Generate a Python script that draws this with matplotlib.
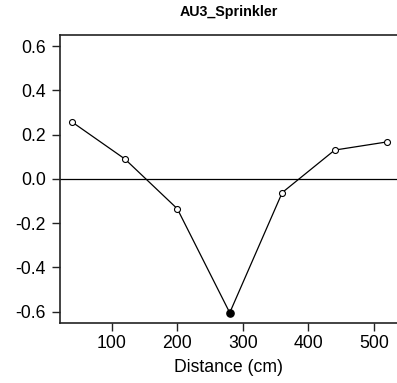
import matplotlib
matplotlib.use("Agg")
import matplotlib.pyplot as plt
import numpy as np

distance_cm = [40, 120, 200, 280, 360, 440, 520]
response = [0.256, 0.090, -0.135, -0.605, -0.062, 0.130, 0.167]
min_index = 3  # point drawn filled

plt.rcParams["font.family"] = ["Liberation Sans", "DejaVu Sans"]

fig = plt.figure(figsize=(3.97, 3.83), dpi=100)
ax = fig.add_axes([60 / 397, 1 - 322.7 / 383, 1 - 60 / 397, (322.7 - 35) / 383])

ax.axhline(0, color="black", linewidth=0.9, zorder=1)
ax.plot(distance_cm, response, color="black", linewidth=0.9, zorder=2)

open_idx = [i for i in range(len(distance_cm)) if i != min_index]
ax.plot(np.array(distance_cm)[open_idx], np.array(response)[open_idx],
        linestyle="none", marker="o", markersize=4.3, markerfacecolor="white",
        markeredgecolor="black", markeredgewidth=0.8, zorder=3)
ax.plot(distance_cm[min_index], response[min_index], linestyle="none",
        marker="o", markersize=5.2, color="black", zorder=3)

ax.set_xlim(21.2, 535)
ax.set_ylim(-0.65, 0.65)
ax.set_xticks([100, 200, 300, 400, 500])
ax.set_yticks([-0.6, -0.4, -0.2, 0.0, 0.2, 0.4, 0.6])
ax.set_yticklabels(["-0.6", "-0.4", "-0.2", "0.0", "0.2", "0.4", "0.6"])
ax.tick_params(axis="both", labelsize=12.7, length=6, width=1.0, pad=4,
               color="#222222")
ax.tick_params(axis="x", pad=3)

ax.spines["right"].set_visible(False)
for side in ["left", "bottom", "top"]:
    ax.spines[side].set_linewidth(1.2)
    ax.spines[side].set_color("#222222")

ax.set_xlabel("Distance (cm)", fontsize=12.7, labelpad=5)
ax.set_title("AU3_Sprinkler", fontsize=10.3, fontweight="bold", pad=14)

fig.savefig("out.png", dpi=100)
